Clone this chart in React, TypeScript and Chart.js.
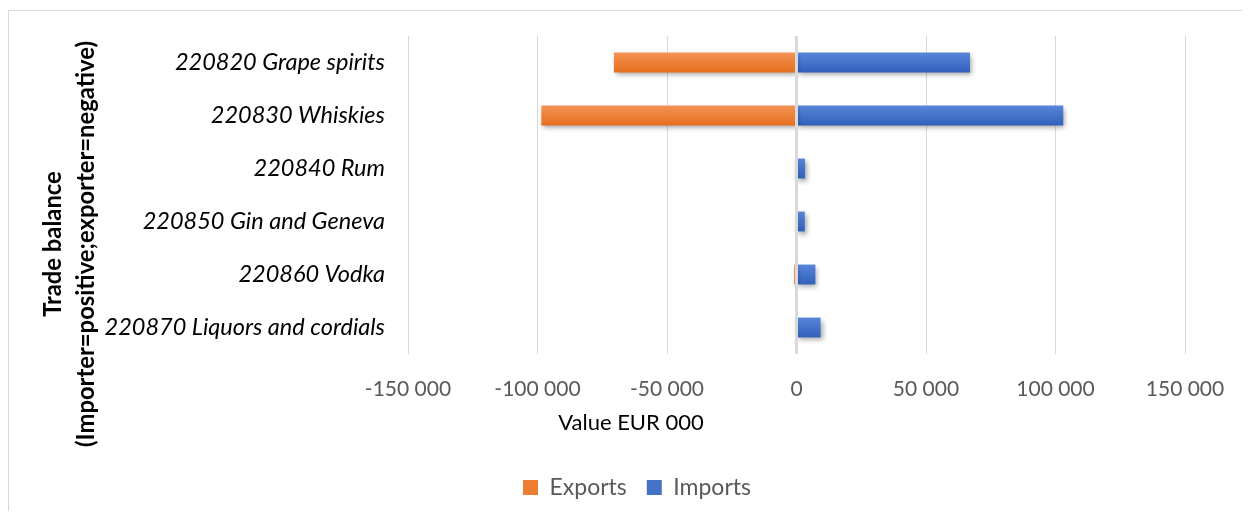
import React, { useEffect, useRef } from "react";
import { Chart, registerables } from "chart.js";

Chart.register(...registerables);

const categories = [
  "220820 Grape spirits",
  "220830 Whiskies",
  "220840 Rum",
  "220850 Gin and Geneva",
  "220860 Vodka",
  "220870 Liquors and cordials",
];
const exportsValues = [-70500, -98500, -600, -500, -900, -400];
const importsValues = [67000, 103000, 3300, 3200, 7300, 9300];
const xTicks = [-150000, -100000, -50000, 0, 50000, 100000, 150000];
const yTitleLines = ["Trade balance", "(Importer=positive;exporter=negative)"];
const xTitle = "Value EUR 000";

const FONT = "Lato, 'Open Sans', sans-serif";
const BAR_H = 20;

function fmt(v: number) {
  const s = Math.abs(v).toString().replace(/\B(?=(\d{3})+(?!\d))/g, " ");
  return (v < 0 ? "-" : "") + s;
}

function gradientFill(top: string, bottom: string, solid: string) {
  return (c: any) => {
    const chart = c.chart;
    const yScale = chart.scales && chart.scales.y;
    if (!yScale || c.dataIndex === undefined) return solid;
    const yc = yScale.getPixelForValue(c.dataIndex);
    if (!isFinite(yc)) return solid;
    const g = chart.ctx.createLinearGradient(0, yc - BAR_H / 2, 0, yc + BAR_H / 2);
    g.addColorStop(0, top);
    g.addColorStop(1, bottom);
    return g;
  };
}

const decorPlugin = {
  id: "decor",
  afterLayout(chart: any) {
    if (chart.legend) {
      chart.legend.left += 40;
      chart.legend.right += 40;
    }
  },
  beforeDatasetsDraw(chart: any) {
    const ctx = chart.ctx;
    ctx.save();
    ctx.shadowColor = "rgba(0,0,0,0.35)";
    ctx.shadowBlur = 5;
    ctx.shadowOffsetX = 2;
    ctx.shadowOffsetY = 3;
  },
  afterDatasetsDraw(chart: any) {
    const ctx = chart.ctx;
    ctx.restore();
    const x = chart.scales.x.getPixelForValue(0);
    const { top, bottom } = chart.chartArea;
    ctx.save();
    ctx.strokeStyle = "#d9d9d9";
    ctx.lineWidth = 3;
    ctx.beginPath();
    ctx.moveTo(x, top);
    ctx.lineTo(x, bottom);
    ctx.stroke();
    ctx.restore();
  },
  afterDraw(chart: any) {
    const ctx = chart.ctx;
    ctx.save();
    ctx.translate(60, 233);
    ctx.rotate(-Math.PI / 2);
    ctx.fillStyle = "#000";
    ctx.font = `bold 23.8px ${FONT}`;
    ctx.textAlign = "center";
    ctx.textBaseline = "middle";
    ctx.fillText(yTitleLines[0], 0, -16);
    ctx.fillText(yTitleLines[1], 0, 17);
    ctx.restore();
    ctx.save();
    ctx.fillStyle = "#000";
    ctx.font = `22px ${FONT}`;
    ctx.textAlign = "center";
    ctx.textBaseline = "middle";
    ctx.fillText(xTitle, 622, 412);
    ctx.restore();
  },
};

export default function App() {
  const ref = useRef<HTMLCanvasElement | null>(null);
  useEffect(() => {
    if (!ref.current) return;
    const chart = new Chart(ref.current, {
      type: "bar",
      data: {
        labels: categories,
        datasets: [
          {
            label: "Exports",
            data: exportsValues,
            backgroundColor: gradientFill("#F39355", "#E66E1E", "#ED7D31"),
            barPercentage: 0.75,
            categoryPercentage: 0.5,
          },
          {
            label: "Imports",
            data: importsValues,
            backgroundColor: gradientFill("#5886D8", "#3160BC", "#4472C4"),
            barPercentage: 0.75,
            categoryPercentage: 0.5,
          },
        ],
      },
      options: {
        indexAxis: "y",
        animation: false,
        responsive: true,
        maintainAspectRatio: false,
        layout: { padding: { left: 0, right: 57, top: 25, bottom: 2 } },
        plugins: {
          legend: {
            position: "bottom",
            labels: {
              font: { family: FONT, size: 23 },
              color: "#595959",
              boxWidth: 15,
              boxHeight: 15,
              padding: 20,
              generateLabels: (chart: any) =>
                chart.data.datasets.map((d: any, i: number) => ({
                  text: d.label,
                  fillStyle: i === 0 ? "#ED7D31" : "#4472C4",
                  strokeStyle: "transparent",
                  lineWidth: 0,
                  fontColor: "#595959",
                  hidden: false,
                  datasetIndex: i,
                })),
            },
          },
          tooltip: { enabled: false },
        },
        scales: {
          x: {
            stacked: true,
            min: -150000,
            max: 150000,
            afterBuildTicks(scale: any) {
              scale.ticks = xTicks.map((v) => ({ value: v }));
            },
            afterFit(scale: any) {
              scale.height = 102;
              scale.paddingLeft = 0;
              scale.paddingRight = 0;
            },
            grid: { color: "#d9d9d9", lineWidth: 1, drawTicks: false },
            border: { display: false },
            ticks: {
              color: "#595959",
              font: { family: FONT, size: 21 },
              padding: 23,
              maxRotation: 0,
              callback: (v: any) => fmt(Number(v)),
            },
          },
          y: {
            stacked: true,
            afterFit(scale: any) {
              scale.width = 399;
              scale.paddingTop = 0;
              scale.paddingBottom = 0;
            },
            grid: { display: false, drawTicks: false },
            border: { display: false },
            ticks: {
              color: "#000",
              font: { family: FONT, size: 23.5, style: "italic" },
              padding: 23,
            },
          },
        },
      },
      plugins: [decorPlugin],
    });
    return () => chart.destroy();
  }, []);
  return (
    <div
      style={{
        width: 1233,
        height: 500,
        marginTop: 2,
        borderTop: "1px solid #d9d9d9",
        borderLeft: "1px solid #d9d9d9",
        position: "relative",
      }}
    >
      <canvas ref={ref} />
    </div>
  );
}
